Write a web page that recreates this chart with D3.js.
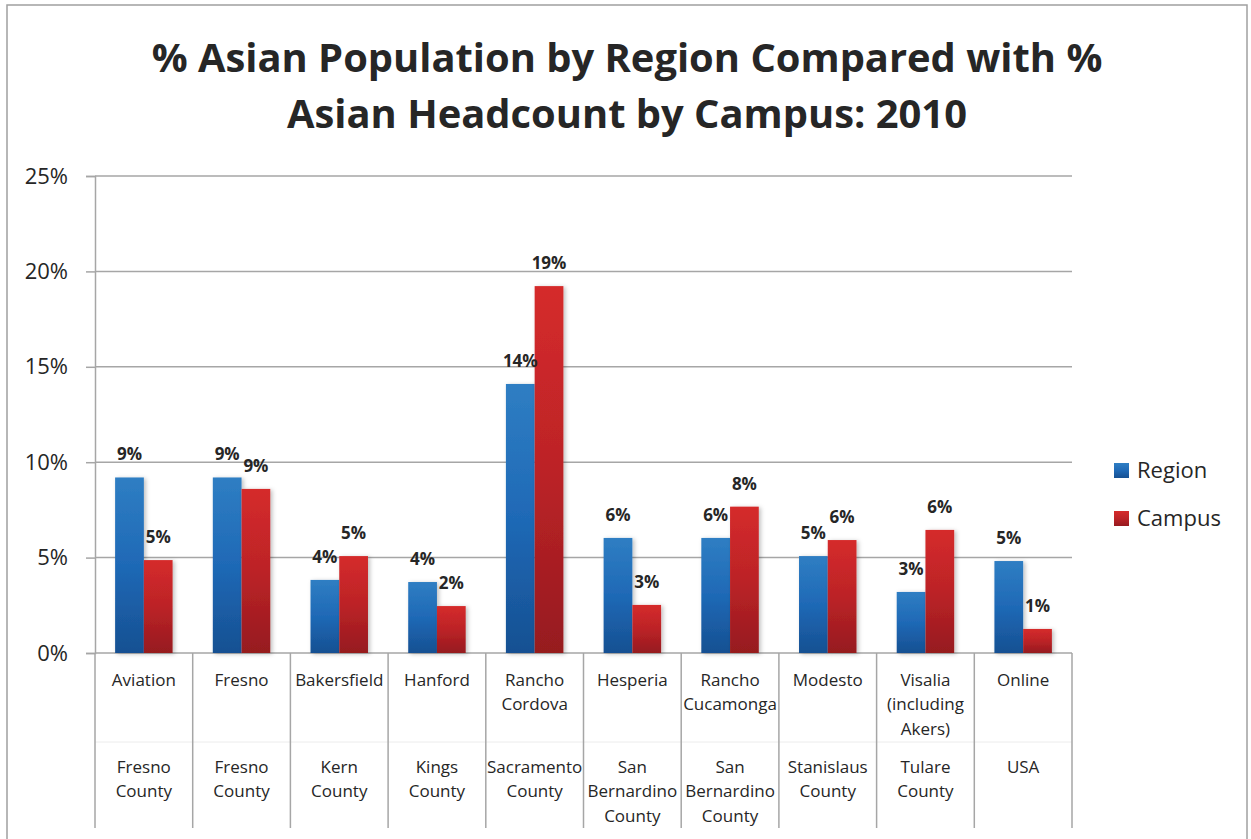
<!DOCTYPE html>
<html>
<head>
<meta charset="utf-8">
<script src="https://cdn.jsdelivr.net/npm/d3@7"></script>
<style>
  body { margin: 0; background: #fff; }
  svg { display: block; font-family: "Open Sans", sans-serif; }
</style>
</head>
<body>
<div id="chart"></div>
<script>
// data
var campusNames = [["Aviation"], ["Fresno"], ["Bakersfield"], ["Hanford"], ["Rancho", "Cordova"],
  ["Hesperia"], ["Rancho", "Cucamonga"], ["Modesto"], ["Visalia", "(including", "Akers)"], ["Online"]];
var regionNames = [["Fresno", "County"], ["Fresno", "County"], ["Kern", "County"], ["Kings", "County"],
  ["Sacramento", "County"], ["San", "Bernardino", "County"], ["San", "Bernardino", "County"],
  ["Stanislaus", "County"], ["Tulare", "County"], ["USA"]];
var regionValues = [0.092, 0.092, 0.0383, 0.0372, 0.141, 0.0603, 0.0603, 0.0508, 0.032, 0.0482];
var campusValues = [0.0487, 0.086, 0.0508, 0.0246, 0.1923, 0.0252, 0.0767, 0.0592, 0.0645, 0.0126];
var seriesNames = ["Region", "Campus"];
var yTicks = [0, 0.05, 0.10, 0.15, 0.20, 0.25];
var titleLines = ["% Asian Population by Region Compared with %", "Asian Headcount by Campus: 2010"];

(function (d3) {
  'use strict';

  var width = 1251, height = 839;
  var margin = { top: 176, left: 95, right: 179, bottom: 186 };
  var plotBottom = height - margin.bottom; // 653
  var textColor = "#262626";
  var gridColor = "#a6a6a6";

  var svg = d3.select("#chart").append("svg").attr("width", width).attr("height", height);

  // gradients + shadow
  var defs = svg.append("defs");
  var grads = {
    Region: [["0%", "#2f7ec3"], ["50%", "#1f69b6"], ["100%", "#165092"]],
    Campus: [["0%", "#d52b2b"], ["50%", "#bc2327"], ["100%", "#961a1f"]]
  };
  seriesNames.forEach(function (s) {
    var lg = defs.append("linearGradient").attr("id", "grad-" + s)
      .attr("x1", 0).attr("y1", 0).attr("x2", 0).attr("y2", 1);
    grads[s].forEach(function (st) {
      lg.append("stop").attr("offset", st[0]).attr("stop-color", st[1]);
    });
  });
  var lgLegend = {
    Region: grads.Region, Campus: grads.Campus
  };
  var f = defs.append("filter").attr("id", "shadow").attr("x", "-20%").attr("y", "-10%")
    .attr("width", "160%").attr("height", "130%");
  f.append("feDropShadow").attr("dx", 2).attr("dy", 1).attr("stdDeviation", 2)
    .attr("flood-color", "#000").attr("flood-opacity", 0.25);

  // outer border
  svg.append("rect").attr("x", 7).attr("y", 5).attr("width", 1240).attr("height", 850)
    .attr("fill", "#fff").attr("stroke", "#a0a0a0").attr("stroke-width", 1.5);

  // title
  var title = svg.append("g").attr("font-weight", "bold").attr("fill", textColor)
    .attr("text-anchor", "middle");
  var t1 = title.append("text").attr("x", 627).attr("y", 72).attr("font-size", 44).text(titleLines[0]);
  var fs = 44 * 951 / t1.node().getComputedTextLength();
  t1.attr("font-size", fs);
  title.append("text").attr("x", 627).attr("y", 128).attr("font-size", fs).text(titleLines[1]);

  // scales
  var x0 = d3.scaleBand().domain(d3.range(campusNames.length))
    .range([margin.left, width - margin.right]).paddingInner(0).paddingOuter(0);
  var x1 = d3.scaleBand().domain(seriesNames).range([0, x0.bandwidth()])
    .paddingInner(0).paddingOuter(0.7);
  var y = d3.scaleLinear().domain([0, 0.25]).range([plotBottom, margin.top]);

  // gridlines
  svg.append("g").selectAll("line").data(yTicks.slice(1)).join("line")
    .attr("x1", margin.left).attr("x2", width - margin.right)
    .attr("y1", function (d) { return y(d); }).attr("y2", function (d) { return y(d); })
    .attr("stroke", gridColor).attr("stroke-width", 1.5);

  // y axis
  var yAxisG = svg.append("g").attr("transform", "translate(" + margin.left + ",0)")
    .call(d3.axisLeft(y).tickValues(yTicks).tickFormat(d3.format(".0%")).tickSize(9).tickPadding(18));
  yAxisG.select(".domain").attr("stroke", gridColor).attr("stroke-width", 1.5);
  yAxisG.selectAll(".tick line").attr("stroke", gridColor).attr("stroke-width", 1.5);
  yAxisG.selectAll(".tick text").attr("font-size", 22).attr("fill", textColor)
    .attr("font-family", "Open Sans, sans-serif");

  // category table lines
  var bounds = d3.range(campusNames.length + 1).map(function (i) {
    return i < campusNames.length ? x0(i) : x0(i - 1) + x0.bandwidth();
  });
  svg.append("line").attr("x1", margin.left).attr("x2", width - margin.right)
    .attr("y1", 742).attr("y2", 742).attr("stroke", "#ececec").attr("stroke-width", 1);
  svg.append("g").selectAll("line").data(bounds).join("line")
    .attr("x1", function (d) { return d; }).attr("x2", function (d) { return d; })
    .attr("y1", plotBottom).attr("y2", 828)
    .attr("stroke", gridColor).attr("stroke-width", 1.5);
  svg.append("line").attr("x1", margin.left).attr("x2", width - margin.right)
    .attr("y1", plotBottom).attr("y2", plotBottom).attr("stroke", gridColor).attr("stroke-width", 1.5);

  // bars
  var rows = campusNames.map(function (c, i) {
    return [
      { key: "Region", i: i, value: regionValues[i] },
      { key: "Campus", i: i, value: campusValues[i] }
    ];
  });
  var groups = svg.append("g").selectAll("g").data(rows).join("g")
    .attr("transform", function (d, i) { return "translate(" + x0(i) + ",0)"; });
  groups.selectAll("rect").data(function (d) { return d; }).join("rect")
    .attr("x", function (d) { return x1(d.key); })
    .attr("y", function (d) { return y(d.value); })
    .attr("width", x1.bandwidth())
    .attr("height", function (d) { return plotBottom - y(d.value); })
    .attr("fill", function (d) { return "url(#grad-" + d.key + ")"; })
    .attr("filter", "url(#shadow)");

  // value labels
  var fmt = d3.format(".0%");
  groups.selectAll("text").data(function (d) { return d; }).join("text")
    .attr("x", function (d) { return x1(d.key) + x1.bandwidth() / 2; })
    .attr("y", function (d) { return y(d.value) - 17; })
    .attr("text-anchor", "middle").attr("font-size", 17).attr("font-weight", "bold")
    .attr("fill", textColor)
    .text(function (d) { return fmt(d.value); });

  // category labels (two rows)
  var catG = svg.append("g").attr("font-size", 17).attr("fill", textColor).attr("text-anchor", "middle");
  function addRow(names, startY) {
    catG.append("g").selectAll("text").data(names).join("text")
      .attr("x", function (d, i) { return x0(i) + x0.bandwidth() / 2; })
      .attr("y", startY)
      .each(function (lines) {
        var t = d3.select(this);
        lines.forEach(function (ln, k) {
          t.append("tspan").attr("x", t.attr("x")).attr("dy", k === 0 ? 0 : 24.3).text(ln);
        });
      });
  }
  addRow(campusNames, 686);
  addRow(regionNames, 773);

  // legend
  var legend = svg.append("g").selectAll("g").data(seriesNames).join("g")
    .attr("transform", function (d, i) { return "translate(1114," + (463 + i * 48) + ")"; });
  legend.append("rect").attr("width", 15).attr("height", 15)
    .attr("fill", function (d) { return "url(#grad-" + d + ")"; });
  legend.append("text").attr("x", 23).attr("y", 15).attr("font-size", 22)
    .attr("fill", textColor).text(function (d) { return d; });
})(d3);
</script>
</body>
</html>
